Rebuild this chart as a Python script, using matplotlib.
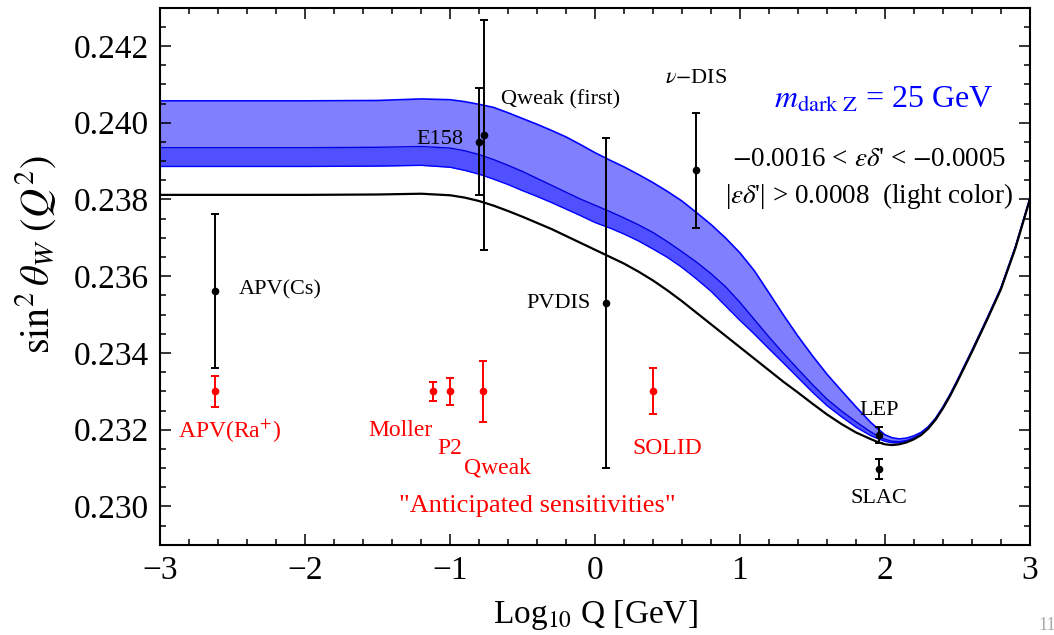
import numpy as np
import matplotlib
matplotlib.use("Agg")
import matplotlib.pyplot as plt
from matplotlib.ticker import MultipleLocator, FormatStrFormatter, FuncFormatter

plt.rcParams['font.family'] = ['Liberation Serif', 'DejaVu Serif']
plt.rcParams['mathtext.fontset'] = 'stix'

# curves: x = log10 Q, y = sin^2 theta_W
x_curve = [-3.0, -2.5, -2.0, -1.5, -1.2,
           -1.0, -0.9, -0.8, -0.7, -0.6, -0.5, -0.4, -0.3, -0.2, -0.1,
           0.0, 0.1, 0.2, 0.3, 0.4, 0.5, 0.6, 0.7, 0.8, 0.9,
           1.0, 1.1, 1.2, 1.3, 1.4, 1.5, 1.6, 1.7, 1.8, 1.9,
           1.95, 2.0, 2.05, 2.1, 2.15, 2.2, 2.25, 2.3, 2.35, 2.4, 2.45, 2.5,
           2.6, 2.7, 2.8, 2.9, 3.0]
sm_curve = [0.23812, 0.23812, 0.23812, 0.23813, 0.23815,
            0.23811, 0.23805, 0.23796, 0.23784, 0.23770, 0.23755, 0.23739, 0.23723, 0.23705, 0.23687,
            0.23669, 0.23651, 0.23633, 0.23612, 0.23589, 0.23563, 0.23535, 0.23505, 0.23475, 0.23445,
            0.23415, 0.23385, 0.23355, 0.23325, 0.23297, 0.23268, 0.23240, 0.23215, 0.23193, 0.23176,
            0.23168, 0.23162, 0.23160, 0.23162, 0.23167, 0.23175, 0.23186, 0.23203, 0.23226, 0.23255, 0.23288, 0.23325,
            0.23402, 0.23482, 0.23565, 0.23672, 0.23799]
band_upper = [0.24057, 0.24057, 0.24057, 0.24058, 0.24062,
              0.24060, 0.24055, 0.24048, 0.24040, 0.24026, 0.24011, 0.23996, 0.23980, 0.23963, 0.23943,
              0.23922, 0.23903, 0.23885, 0.23865, 0.23844, 0.23821, 0.23796, 0.23766, 0.23735, 0.23700,
              0.23661, 0.23614, 0.23557, 0.23499, 0.23444, 0.23393, 0.23345, 0.23302, 0.23260, 0.23220,
              0.23203, 0.23187, 0.23179, 0.23176, 0.23178, 0.23184, 0.23193, 0.23208, 0.23230, 0.23259, 0.23292, 0.23329,
              0.23406, 0.23486, 0.23569, 0.23676, 0.23802]
band_mid = [0.23935, 0.23935, 0.23935, 0.23936, 0.23938,
            0.23934, 0.23927, 0.23917, 0.23904, 0.23889, 0.23873, 0.23855, 0.23837, 0.23819, 0.23801,
            0.23785, 0.23769, 0.23752, 0.23734, 0.23714, 0.23690, 0.23664, 0.23637, 0.23607, 0.23573,
            0.23532, 0.23487, 0.23442, 0.23399, 0.23358, 0.23318, 0.23280, 0.23249, 0.23221, 0.23195,
            0.23184, 0.23175, 0.23170, 0.23169, 0.23172, 0.23179, 0.23189, 0.23205, 0.23228, 0.23258, 0.23291, 0.23328,
            0.23405, 0.23485, 0.23568, 0.23675, 0.23801]
band_lower = [0.23886, 0.23886, 0.23886, 0.23887, 0.23889,
              0.23884, 0.23876, 0.23866, 0.23853, 0.23839, 0.23823, 0.23808, 0.23792, 0.23775, 0.23758,
              0.23740, 0.23726, 0.23710, 0.23692, 0.23671, 0.23649, 0.23623, 0.23593, 0.23561, 0.23523,
              0.23485, 0.23449, 0.23411, 0.23374, 0.23336, 0.23298, 0.23263, 0.23234, 0.23207, 0.23185,
              0.23177, 0.23170, 0.23166, 0.23166, 0.23170, 0.23177, 0.23188, 0.23204, 0.23227, 0.23257, 0.23290, 0.23327,
              0.23404, 0.23484, 0.23567, 0.23674, 0.23800]

# measurements (black)
meas_x = [-2.62, -0.80, -0.765, 0.075, 0.70, 1.96, 1.96]
meas_y = [0.23561, 0.23951, 0.23968, 0.23530, 0.23876, 0.23186, 0.23098]
meas_err = [0.00200, 0.00139, 0.00300, 0.00431, 0.00150, 0.00020, 0.00026]

# anticipated sensitivities (red)
fut_x = [-2.62, -1.12, -1.00, -0.77, 0.40]
fut_y = [0.23300, 0.23300, 0.23300, 0.23300, 0.23300]
fut_err = [0.00040, 0.00025, 0.00036, 0.00080, 0.00060]

fig = plt.figure(figsize=(10.54, 6.35), dpi=100)
ax = fig.add_axes([0.152, 0.142, 0.825, 0.846])

ax.fill_between(x_curve, band_mid, band_upper, color='#8080ff', lw=0, zorder=1)
ax.fill_between(x_curve, band_lower, band_mid, color='#5050ff', lw=0, zorder=1)
ax.plot(x_curve, band_upper, color='#0000ff', lw=1.2, zorder=2)
ax.plot(x_curve, band_mid, color='#0000e0', lw=1.0, zorder=2)
ax.plot(x_curve, band_lower, color='#0000ff', lw=1.0, zorder=2)
ax.plot(x_curve, sm_curve, color='black', lw=1.6, zorder=3)

ax.errorbar(meas_x, meas_y, yerr=meas_err, fmt='o', color='black', ms=4.5,
            capsize=3, elinewidth=1.4, capthick=1.4, zorder=4)
ax.errorbar(fut_x, fut_y, yerr=fut_err, fmt='o', color='#ff0000', ms=4.5,
            capsize=3, elinewidth=1.4, capthick=1.4, zorder=4)

# labels of the points
ax.text(-2.46, 0.23565, 'APV(Cs)', fontsize=16, ha='left', va='center')
ax.text(-0.91, 0.23956, 'E158', fontsize=16, ha='right', va='center')
ax.text(-0.65, 0.24060, 'Qweak (first)', fontsize=16, ha='left', va='center')
ax.text(0.70, 0.24115, r'$\nu$$-$DIS', fontsize=16, ha='center', va='center')
ax.text(-0.03, 0.23530, 'PVDIS', fontsize=16, ha='right', va='center')
ax.text(1.96, 0.23250, 'LEP', fontsize=16, ha='center', va='center')
ax.text(1.96, 0.23020, 'SLAC', fontsize=16, ha='center', va='center')

red = '#ff0000'
ax.text(-2.52, 0.23197, r'APV(Ra$^{+}$)', fontsize=17, ha='center', va='center', color=red)
ax.text(-1.345, 0.23197, 'Moller', fontsize=17, ha='center', va='center', color=red)
ax.text(-1.00, 0.23150, 'P2', fontsize=17, ha='center', va='center', color=red)
ax.text(-0.67, 0.23100, 'Qweak', fontsize=17, ha='center', va='center', color=red)
ax.text(0.50, 0.23152, 'SOLID', fontsize=17, ha='center', va='center', color=red)
ax.text(-0.40, 0.23002, '"Anticipated sensitivities"', fontsize=19, ha='center',
        va='center', color=red)

ax.text(1.995, 0.24060, r'$m_{\mathrm{dark\ Z}}$ = 25 GeV', fontsize=23, ha='center',
        va='center', color='#0000ff')
ax.text(1.895, 0.23904, r"$-$0.0016 < $\varepsilon\delta$' < $-$0.0005", fontsize=19.5,
        ha='center', va='center')
ax.text(1.895, 0.23808, r"|$\varepsilon\delta$'| > 0.0008  (light color)", fontsize=19.5,
        ha='center', va='center')

ax.set_xlim(-3, 3)
ax.set_ylim(0.229, 0.243)
ax.xaxis.set_major_locator(MultipleLocator(1))
ax.xaxis.set_minor_locator(MultipleLocator(0.2))
ax.yaxis.set_major_locator(MultipleLocator(0.002))
ax.yaxis.set_minor_locator(MultipleLocator(0.0005))
ax.yaxis.set_major_formatter(FormatStrFormatter('%.3f'))
ax.xaxis.set_major_formatter(FuncFormatter(
    lambda v, p: ('\u2212%d' % abs(v)) if v < 0 else '%d' % v))
ax.tick_params(which='both', direction='in', top=True, right=True, labelsize=24,
               width=1.1)
ax.tick_params(which='major', length=8, pad=8)
ax.tick_params(which='minor', length=4.5)
for s in ax.spines.values():
    s.set_linewidth(1.5)

ax.set_xlabel(r'Log$_{10}$ Q [GeV]', fontsize=24, labelpad=8)
ax.set_ylabel(r'$\sin^2\theta_W\ (Q^2)$', fontsize=29)
ax.yaxis.set_label_coords(-0.117, 0.54)

fig.text(0.985, 0.002, '11', fontsize=13, color='#aaaaaa', ha='left', va='bottom')

fig.savefig('out.png', dpi=100)
